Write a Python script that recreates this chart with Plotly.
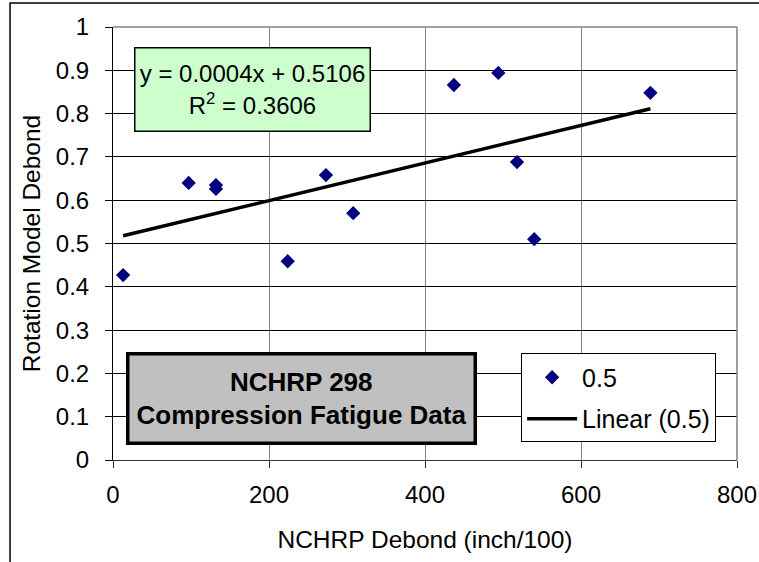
import numpy as np
import plotly.graph_objects as go

# Données -------------------------------------------------------------------
nchrp_debond = [13, 97, 132, 132, 224, 273, 308, 437, 494, 518, 540, 689]
rotation_debond = [0.427, 0.640, 0.635, 0.626, 0.459, 0.658, 0.570, 0.866, 0.894, 0.688, 0.510, 0.848]
equation_text = "y = 0.0004x + 0.5106<br>R<sup>2</sup> = 0.3606"
box_text = "<b>NCHRP 298</b><br><b>Compression Fatigue Data</b>"
# ---------------------------------------------------------------------------

# tendance linéaire (comme Excel)
a, b = np.polyfit(nchrp_debond, rotation_debond, 1)
xt = np.array([min(nchrp_debond), max(nchrp_debond)])
yt = a*xt + b

font = "Liberation Sans, Arial, sans-serif"

fig = go.Figure()
fig.add_trace(go.Scatter(x=nchrp_debond, y=rotation_debond, mode="markers", name="0.5",
                         marker=dict(symbol="diamond", size=11, color="#000080"),
                         legendgroup="a"))
fig.add_trace(go.Scatter(x=xt, y=yt, mode="lines", name="Linear (0.5)",
                         line=dict(color="black", width=3.5), legendgroup="b"))

fig.update_layout(
    width=759, height=562,
    paper_bgcolor="white", plot_bgcolor="white",
    margin=dict(l=113, r=22, t=27, b=102),
    font=dict(family=font, size=24, color="black"),
    xaxis=dict(range=[0, 800], tick0=0, dtick=200, showgrid=True, gridcolor="#808080", gridwidth=1,
               zeroline=False, showline=True, linecolor="#303030", linewidth=1, automargin=False,
               ticks="outside", ticklen=7, tickcolor="#303030", ticklabelstandoff=6,
               title=dict(text="NCHRP Debond (inch/100)", font=dict(size=24.5), standoff=24)),
    yaxis=dict(range=[0, 1], tick0=0, dtick=0.1, showgrid=True, gridcolor="black", gridwidth=1,
               zeroline=False, showline=True, linecolor="black", linewidth=1, automargin=False,
               ticks="outside", ticklen=7, tickcolor="black", ticklabelstandoff=11,
               title=dict(text="Rotation Model Debond", font=dict(size=24.5), standoff=8)),
    legend=dict(x=0.654, y=0.246, xanchor="left", yanchor="top",
                bordercolor="black", borderwidth=1, bgcolor="white",
                font=dict(size=25), tracegroupgap=6, itemwidth=50),
    shapes=[
        # bordure grise du graphique (haut et droite)
        dict(type="line", xref="paper", yref="paper", x0=0, x1=1, y0=1, y1=1,
             line=dict(color="#808080", width=1.5), layer="above"),
        dict(type="line", xref="paper", yref="paper", x0=1, x1=1, y0=0, y1=1,
             line=dict(color="#808080", width=1.5), layer="above"),
        # cadre extérieur
        dict(type="rect", xref="paper", yref="paper", x0=-0.165, x1=1.2, y0=-0.35, y1=1.0554,
             line=dict(color="black", width=1.5)),
    ],
    annotations=[
        dict(text=equation_text, xref="paper", yref="paper", x=0.2236, y=0.856,
             xanchor="center", yanchor="middle", showarrow=False,
             font=dict(size=24), bgcolor="#CCFFCC", bordercolor="black", borderwidth=1.5,
             width=230, height=78, borderpad=2),
        dict(text=box_text, xref="paper", yref="paper", x=0.302, y=0.143,
             xanchor="center", yanchor="middle", showarrow=False,
             font=dict(size=26), bgcolor="#C0C0C0", bordercolor="black", borderwidth=3.5,
             width=340, height=82, borderpad=2),
    ],
)

fig.write_html("out.html", config={"displayModeBar": False},
               post_script="document.body.style.margin='0px';")
